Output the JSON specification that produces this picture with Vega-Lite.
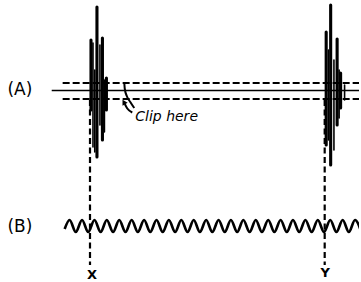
{
  "$schema": "https://vega.github.io/schema/vega-lite/v6.json",
  "width": 361,
  "height": 282,
  "autosize": {"type": "fit", "contains": "padding"},
  "padding": 0,
  "background": "white",
  "config": {"view": {"stroke": null}},
  "datasets": {
    "hsolid": [{"x": 52, "x2": 361, "y": 90.5}],
    "hdashed": [{"x": 63, "x2": 361, "y": 83}, {"x": 63, "x2": 361, "y": 99}],
    "vdashed": [{"x": 90.5, "y": 100, "y2": 265}, {"x": 326.5, "y": 100, "y2": 265}],
    "spikesThick": [
      {"x": 91.5, "y": 40, "y2": 110},
      {"x": 97.5, "y": 7, "y2": 157},
      {"x": 103, "y": 38, "y2": 140},
      {"x": 107, "y": 78, "y2": 110},
      {"x": 328, "y": 32, "y2": 145},
      {"x": 332.5, "y": 5, "y2": 165},
      {"x": 339, "y": 39, "y2": 125},
      {"x": 342.5, "y": 73, "y2": 108}
    ],
    "spikesThin": [
      {"x": 93.5, "y": 43, "y2": 147},
      {"x": 95.3, "y": 70, "y2": 152},
      {"x": 100.5, "y": 45, "y2": 125},
      {"x": 105, "y": 80, "y2": 132},
      {"x": 330.3, "y": 50, "y2": 140},
      {"x": 335.8, "y": 60, "y2": 150},
      {"x": 341, "y": 70, "y2": 118},
      {"x": 346.5, "y": 85, "y2": 100}
    ],
    "wave": [
      {"x": 65, "y": 229},
      {"x": 70.0, "y": 220}, {"x": 76.2, "y": 232},
      {"x": 82.5, "y": 220}, {"x": 88.7, "y": 232},
      {"x": 95.0, "y": 220}, {"x": 101.2, "y": 232},
      {"x": 107.4, "y": 220}, {"x": 113.7, "y": 232},
      {"x": 119.9, "y": 220}, {"x": 126.2, "y": 232},
      {"x": 132.4, "y": 220}, {"x": 138.6, "y": 232},
      {"x": 144.9, "y": 220}, {"x": 151.1, "y": 232},
      {"x": 157.4, "y": 220}, {"x": 163.6, "y": 232},
      {"x": 169.8, "y": 220}, {"x": 176.1, "y": 232},
      {"x": 182.3, "y": 220}, {"x": 188.6, "y": 232},
      {"x": 194.8, "y": 220}, {"x": 201.0, "y": 232},
      {"x": 207.3, "y": 220}, {"x": 213.5, "y": 232},
      {"x": 219.8, "y": 220}, {"x": 226.0, "y": 232},
      {"x": 232.2, "y": 220}, {"x": 238.5, "y": 232},
      {"x": 244.7, "y": 220}, {"x": 251.0, "y": 232},
      {"x": 257.2, "y": 220}, {"x": 263.4, "y": 232},
      {"x": 269.7, "y": 220}, {"x": 275.9, "y": 232},
      {"x": 282.2, "y": 220}, {"x": 288.4, "y": 232},
      {"x": 294.6, "y": 220}, {"x": 300.9, "y": 232},
      {"x": 307.1, "y": 220}, {"x": 313.4, "y": 232},
      {"x": 319.6, "y": 220}, {"x": 325.8, "y": 232},
      {"x": 332.1, "y": 220}, {"x": 338.3, "y": 232},
      {"x": 344.6, "y": 220}, {"x": 350.8, "y": 232},
      {"x": 357.0, "y": 220}, {"x": 363.3, "y": 232}
    ],
    "clipArrows": [
      {"part": "a", "x": 125, "y": 83},
      {"part": "a", "x": 125.5, "y": 89},
      {"part": "a", "x": 127.5, "y": 96},
      {"part": "a", "x": 131, "y": 102},
      {"part": "a", "x": 135, "y": 108},
      {"part": "b", "x": 125.5, "y": 104},
      {"part": "b", "x": 128, "y": 108.5},
      {"part": "b", "x": 133, "y": 112.5}
    ],
    "arrowHeads": [{"x": 124.5, "y": 102}],
    "labels": [
      {"x": 20, "y": 90, "t": "(A)"},
      {"x": 20, "y": 227, "t": "(B)"}
    ],
    "letters": [
      {"x": 92.5, "y": 275, "t": "X"},
      {"x": 327, "y": 272.5, "t": "Y"}
    ],
    "clipText": [{"x": 136, "y": 117, "t": "Clip here"}]
  },
  "encoding": {
    "x": {"field": "x", "type": "quantitative", "scale": {"domain": [0, 361], "nice": false, "zero": false}, "axis": null},
    "y": {"field": "y", "type": "quantitative", "scale": {"domain": [0, 282], "reverse": true, "nice": false, "zero": false}, "axis": null}
  },
  "layer": [
    {
      "data": {"name": "hsolid"},
      "mark": {"type": "rule", "color": "black", "strokeWidth": 1.6},
      "encoding": {"x2": {"field": "x2"}}
    },
    {
      "data": {"name": "hdashed"},
      "mark": {"type": "rule", "color": "black", "strokeWidth": 2.2, "strokeDash": [7, 3]},
      "encoding": {"x2": {"field": "x2"}}
    },
    {
      "data": {"name": "vdashed"},
      "mark": {"type": "rule", "color": "black", "strokeWidth": 2.2, "strokeDash": [6, 3.5]},
      "encoding": {"y2": {"field": "y2"}}
    },
    {
      "data": {"name": "spikesThin"},
      "mark": {"type": "rule", "color": "black", "strokeWidth": 1.6, "strokeCap": "round"},
      "encoding": {"y2": {"field": "y2"}}
    },
    {
      "data": {"name": "spikesThick"},
      "mark": {"type": "rule", "color": "black", "strokeWidth": 3.1, "strokeCap": "round"},
      "encoding": {"y2": {"field": "y2"}}
    },
    {
      "data": {"name": "wave"},
      "mark": {"type": "line", "color": "black", "strokeWidth": 2.6, "interpolate": "monotone", "clip": true},
      "encoding": {}
    },
    {
      "data": {"name": "clipArrows"},
      "mark": {"type": "line", "color": "black", "strokeWidth": 2, "interpolate": "monotone"},
      "encoding": {"detail": {"field": "part"}, "order": {"field": "y"}}
    },
    {
      "data": {"name": "arrowHeads"},
      "mark": {"type": "point", "shape": "triangle-up", "filled": true, "color": "black", "size": 35, "angle": -30, "opacity": 1}
    },
    {
      "data": {"name": "labels"},
      "mark": {"type": "text", "font": "DejaVu Sans", "fontSize": 17, "align": "center", "baseline": "middle", "color": "black"},
      "encoding": {"text": {"field": "t"}}
    },
    {
      "data": {"name": "letters"},
      "mark": {"type": "text", "font": "DejaVu Sans", "fontSize": 13, "fontWeight": "bold", "align": "center", "baseline": "middle", "color": "black"},
      "encoding": {"text": {"field": "t"}}
    },
    {
      "data": {"name": "clipText"},
      "mark": {"type": "text", "font": "DejaVu Sans", "fontSize": 14, "fontStyle": "italic", "align": "left", "baseline": "middle", "color": "black"},
      "encoding": {"text": {"field": "t"}}
    }
  ]
}
